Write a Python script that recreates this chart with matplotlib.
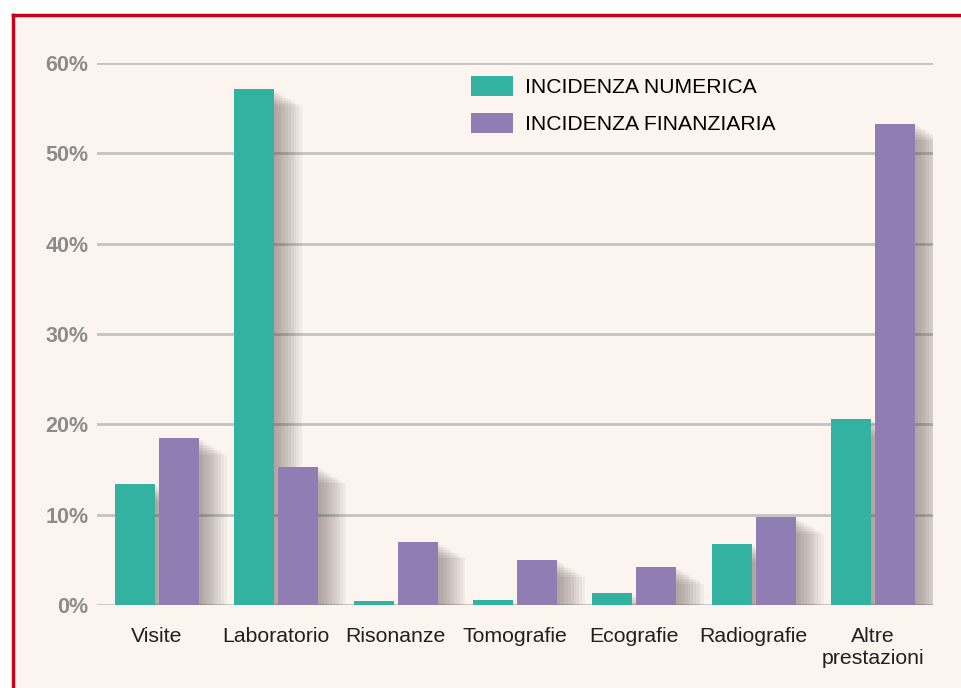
import matplotlib.pyplot as plt
import matplotlib.patheffects as pe
from matplotlib.patches import Rectangle
from matplotlib.lines import Line2D
import numpy as np

plt.rcParams['font.family'] = ['Liberation Sans', 'DejaVu Sans']

# dati
categorie = ["Visite", "Laboratorio", "Risonanze", "Tomografie", "Ecografie", "Radiografie", "Altre\nprestazioni"]
incidenza_numerica = [13.4, 57.1, 0.4, 0.5, 1.3, 6.7, 20.6]
incidenza_finanziaria = [18.5, 15.3, 7.0, 5.0, 4.2, 9.7, 53.3]
serie = ["INCIDENZA NUMERICA", "INCIDENZA FINANZIARIA"]
yticks = [0, 10, 20, 30, 40, 50, 60]

teal = "#33b2a2"
viola = "#907db3"
sfondo = "#fcf5ef"

fig = plt.figure(figsize=(9.61, 6.88), dpi=100)
fig.patch.set_facecolor("white")

# riquadro crema con bordo rosso (solo alto e sinistra)
fig.patches.append(Rectangle((12 / 961, 0), 1, 1 - 14 / 688, transform=fig.transFigure,
                             facecolor=sfondo, edgecolor="none", zorder=-5))
fig.lines.append(Line2D([12.5 / 961, 1], [1 - 14.5 / 688] * 2, transform=fig.transFigure,
                        color="#c8001c", lw=2.5, zorder=-4))
fig.lines.append(Line2D([12.5 / 961] * 2, [0, 1 - 14.5 / 688], transform=fig.transFigure,
                        color="#c8001c", lw=2.5, zorder=-4))

ax = fig.add_axes([97 / 961, 83 / 688, 836 / 961, 542 / 688])
ax.set_facecolor("none")

x = np.arange(len(categorie))
w = 0.335
# ombra sfumata: tanti strati leggeri
ombra = [pe.SimplePatchShadow(offset=(o, -o * 0.6), shadow_rgbFace="#4a3c3a", alpha=0.05)
         for o in range(2, 22, 2)] + [pe.Normal()]

b1 = ax.bar(x - w / 2 - 0.017, incidenza_numerica, w, color=teal, label=serie[0], zorder=3)
b2 = ax.bar(x + w / 2 + 0.017, incidenza_finanziaria, w, color=viola, label=serie[1], zorder=3)
for b in list(b1) + list(b2):
    b.set_path_effects(ombra)

ax.set_xlim(-0.5, 6.5)
ax.set_ylim(0, 60)
ax.set_yticks(yticks)
ax.set_yticklabels([f"{v}%" for v in yticks], fontsize=15.5, fontweight="bold", color="#8c8c8c")
ax.set_xticks(x)
ax.set_xticklabels(categorie, fontsize=15.3, color="#231f20", linespacing=1.2)
ax.tick_params(axis="y", length=0, pad=6)
ax.tick_params(axis="x", length=0, pad=16)

ax.grid(axis="y", color="#c2c2c2", lw=2, zorder=1)
ax.set_axisbelow(True)
for s in ax.spines.values():
    s.set_visible(False)

leg = fig.legend(handles=[b1, b2], labels=serie, loc="upper left",
                 bbox_to_anchor=(471 / 961, 1 - 76 / 688), frameon=False, fontsize=15.2,
                 handlelength=2.0, handleheight=1.05, handletextpad=0.55, labelspacing=0.78,
                 borderpad=0, borderaxespad=0)
for h in leg.legend_handles:
    h.set_path_effects([pe.Normal()])

plt.savefig("out.png", dpi=100, facecolor=fig.get_facecolor())
